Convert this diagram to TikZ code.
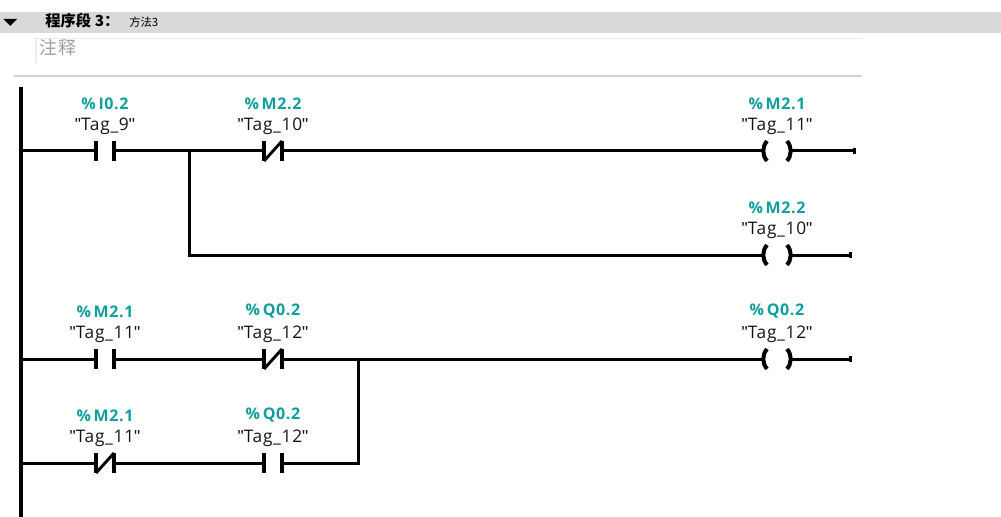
\documentclass[tikz,border=0pt]{standalone}
\usepackage{fontspec}
\setmainfont{Open Sans}[LetterSpace=4]
\newfontfamily\qf{Liberation Sans}
\newfontfamily\cjk{Noto Sans CJK SC}
\newfontfamily\cjkwide{Noto Sans CJK SC}[LetterSpace=6]
\definecolor{tagteal}{HTML}{0E9E9E}
\definecolor{hdrgray}{HTML}{D9D9D9}
\definecolor{cmtline}{HTML}{EDEDED}
\definecolor{cmttext}{HTML}{A39E98}
\definecolor{sepline}{HTML}{D5CCE6}
\definecolor{tagtext}{HTML}{141414}
\newcommand{\qq}{{\qf\char34}}
\begin{document}
\begin{tikzpicture}[x=0.75pt,y=-0.75pt,
  wire/.style={line width=2.25pt},
  rail/.style={line width=2.6pt},
  bar/.style={line width=3pt},
  addr/.style={font=\fontsize{12}{14}\selectfont\bfseries, text=tagteal, inner sep=0pt},
  tagname/.style={font=\fontsize{13}{15}\selectfont, text=tagtext, inner sep=0pt},
  nocontact/.pic={
    \draw[bar] (-9,-10) -- (-9,10);
    \draw[bar] (9,-10) -- (9,10);
    \coordinate (-L) at (-9,0);
    \coordinate (-R) at (9,0);
  },
  nccontact/.pic={
    \draw[bar] (-9,-10) -- (-9,10);
    \draw[bar] (9,-10) -- (9,10);
    \draw[line width=2.2pt] (-9,10) -- (9,-10);
    \coordinate (-L) at (-9,0);
    \coordinate (-R) at (9,0);
  },
  coil/.pic={
    \draw[bar] (-10,-10) .. controls (-15,-4) and (-15,4) .. (-10,10);
    \draw[bar] (10,-10) .. controls (15,-4) and (15,4) .. (10,10);
    \coordinate (-L) at (-13.5,0);
    \coordinate (-R) at (13.5,0);
  }
]
\useasboundingbox (0,0) rectangle (1001,517);
% header
\fill[hdrgray] (0,12) rectangle (1001,33);
\fill (3.5,19) -- (17,19) -- (10.25,26) -- cycle;
\node[anchor=base west, inner sep=0pt, font=\cjk\fontsize{11.5}{13}\selectfont\bfseries] (hdr) at (45,27) {程序段 3：};
\node[anchor=base west, inner sep=0pt, font=\cjk\fontsize{8.5}{10}\selectfont] (hdrtitle) at (129,27) {方法3};
% comment box
\draw[cmtline, line width=1.2pt] (36,63) -- (36,38.5) -- (863,38.5);
\node[anchor=west, inner sep=0pt, text=cmttext, font=\cjkwide\fontsize{13.5}{15}\selectfont] (cmt) at (39,47.5) {注释};
\draw[sepline, line width=1.2pt] (14,76) -- (862,76);
% power rail
\coordinate (railtop) at (21,87);
\coordinate (railbot) at (21,517);
\draw[rail] (railtop) -- (railbot);
\coordinate (r1) at (21,151);
\coordinate (r3) at (21,359);
\coordinate (r4) at (21,463);
% rung 1
\pic (c1) at (105,151) {nocontact};
\node[addr] (c1a) at (105,103.5) {\%\,I0.2};
\node[tagname] (c1t) at (105,126) {\qq Tag\_9\qq};
\pic (c2) at (273,151) {nccontact};
\node[addr] (c2a) at (273,103.5) {\%\,M2.2};
\node[tagname] (c2t) at (273,126) {\qq Tag\_10\qq};
\pic (k1) at (777,151) {coil};
\node[addr] (k1a) at (777,103.5) {\%\,M2.1};
\node[tagname] (k1t) at (777,126) {\qq Tag\_11\qq};
\pic (k2) at (777,255) {coil};
\node[addr] (k2a) at (777,207.5) {\%\,M2.2};
\node[tagname] (k2t) at (777,230) {\qq Tag\_10\qq};
\coordinate (j1) at (189,151);
\coordinate (j1b) at (189,255);
\coordinate (e1) at (855,151);
\coordinate (e2) at (851,255);
\draw[wire] (r1) -- (c1-L);
\draw[wire] (c1-R) -- (c2-L);
\draw[wire] (c2-R) -- (k1-L);
\draw[wire] (k1-R) -- (e1);
\draw[wire] (j1) -- (j1b) -- (k2-L);
\draw[wire] (k2-R) -- (e2);
\fill ([xshift=-1.5pt,yshift=-2.5pt]e1) rectangle ([xshift=0.6pt,yshift=2.5pt]e1);
\fill ([xshift=-1.5pt,yshift=-2.5pt]e2) rectangle ([xshift=0.6pt,yshift=2.5pt]e2);
% rung 2
\pic (c3) at (105,359) {nocontact};
\node[addr] (c3a) at (105,311.5) {\%\,M2.1};
\node[tagname] (c3t) at (105,334) {\qq Tag\_11\qq};
\pic (c4) at (273,359) {nccontact};
\node[addr] (c4a) at (273,311.5) {\%\,Q0.2};
\node[tagname] (c4t) at (273,334) {\qq Tag\_12\qq};
\pic (k3) at (777,359) {coil};
\node[addr] (k3a) at (777,311.5) {\%\,Q0.2};
\node[tagname] (k3t) at (777,334) {\qq Tag\_12\qq};
\pic (c5) at (105,463) {nccontact};
\node[addr] (c5a) at (105,415.5) {\%\,M2.1};
\node[tagname] (c5t) at (105,438) {\qq Tag\_11\qq};
\pic (c6) at (273,463) {nocontact};
\node[addr] (c6a) at (273,415.5) {\%\,Q0.2};
\node[tagname] (c6t) at (273,438) {\qq Tag\_12\qq};
\coordinate (j3) at (358,359);
\coordinate (j4) at (358,463);
\coordinate (e3) at (851,359);
\draw[wire] (r3) -- (c3-L);
\draw[wire] (c3-R) -- (c4-L);
\draw[wire] (c4-R) -- (k3-L);
\draw[wire] (k3-R) -- (e3);
\fill ([xshift=-1.5pt,yshift=-2.5pt]e3) rectangle ([xshift=0.6pt,yshift=2.5pt]e3);
\draw[wire] (r4) -- (c5-L);
\draw[wire] (c5-R) -- (c6-L);
\draw[wire] (c6-R) -- (j4) -- (j3);
\end{tikzpicture}
\end{document}
